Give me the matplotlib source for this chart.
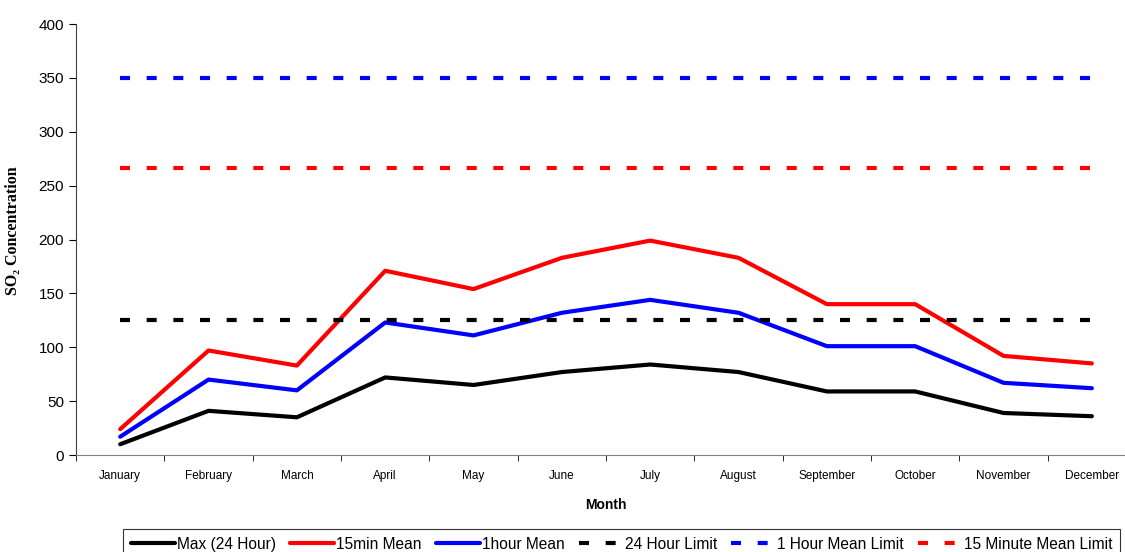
import matplotlib.pyplot as plt
import numpy as np

plt.rcParams['font.family'] = ['Liberation Sans', 'DejaVu Sans']
plt.rcParams['lines.scale_dashes'] = False

meses = ["January", "February", "March", "April", "May", "June", "July",
         "August", "September", "October", "November", "December"]
max_24h = [10, 41, 35, 72, 65, 77, 84, 77, 59, 59, 39, 36]
media_15min = [24, 97, 83, 171, 154, 183, 199, 183, 140, 140, 92, 85]
media_1h = [17, 70, 60, 123, 111, 132, 144, 132, 101, 101, 67, 62]
limite_24h = 125
limite_1h = 350
limite_15min = 266

x = np.arange(len(meses))

fig = plt.figure(figsize=(11.25, 5.52), dpi=100)
ax = fig.add_axes([0.0676, 0.1757, 0.9422, 0.7808])

ax.plot(x, max_24h, color='black', lw=3, solid_capstyle='round', label="Max (24 Hour)")
ax.plot(x, media_15min, color='red', lw=3, solid_capstyle='round', label="15min Mean")
ax.plot(x, media_1h, color='blue', lw=3, solid_capstyle='round', label="1hour Mean")
tracos = (0, (7.2, 12.0))
ax.plot(x, [limite_24h] * len(x), color='black', lw=3, linestyle=tracos, label="24 Hour Limit")
ax.plot(x, [limite_1h] * len(x), color='blue', lw=3, linestyle=tracos, label="1 Hour Mean Limit")
ax.plot(x, [limite_15min] * len(x), color='red', lw=3, linestyle=tracos, label="15 Minute Mean Limit")

ax.set_xlim(-0.5, 11.5)
ax.set_ylim(0, 400)
ax.set_yticks(range(0, 401, 50))
ax.tick_params(axis='y', labelsize=11, length=5, direction='out')
ax.set_xticks(x)
ax.set_xticklabels(meses, fontsize=8.5)
ax.set_xticks(np.arange(-0.5, 12, 1), minor=True)
ax.tick_params(axis='x', which='major', length=0, pad=11)
ax.tick_params(axis='x', which='minor', length=4, direction='out')

for lado in ['top', 'right']:
    ax.spines[lado].set_visible(False)
ax.spines['bottom'].set_color('#808080')
ax.spines['left'].set_color('#404040')

ax.set_xlabel("Month", fontsize=10, fontweight='bold', labelpad=11)
ax.set_ylabel("SO₂ Concentration", fontsize=11.5, fontweight='bold',
              family=['Liberation Serif', 'DejaVu Serif'], labelpad=13)
ax.yaxis.set_label_coords(-0.052, 0.52)

leg = fig.legend(loc='upper left', bbox_to_anchor=(123 / 1125, 1 - 529 / 552),
                 ncol=6, fontsize=11.2, frameon=True, fancybox=False,
                 edgecolor='black', handlelength=2.85, handletextpad=0.12,
                 columnspacing=0.9, borderpad=0.5, borderaxespad=0)
leg.get_frame().set_linewidth(0.8)

fig.savefig("out.png", dpi=100)
